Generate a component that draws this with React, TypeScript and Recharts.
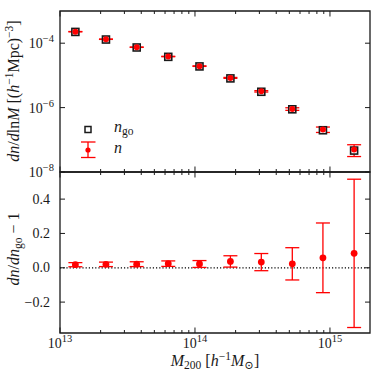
import React from 'react';
import { ComposedChart, Scatter, XAxis, YAxis, ErrorBar, ReferenceLine, ReferenceArea } from 'recharts';

// ---- data ----
const massBins = [1.30e13, 2.19e13, 3.70e13, 6.34e13, 1.08e14, 1.83e14, 3.10e14, 5.26e14, 8.87e14, 1.51e15];
const nGo = [2.24e-4, 1.30e-4, 7.36e-5, 3.77e-5, 1.90e-5, 8.07e-6, 3.10e-6, 8.85e-7, 1.98e-7, 4.63e-8];
const nMeasured = [2.28e-4, 1.33e-4, 7.51e-5, 3.86e-5, 1.94e-5, 8.37e-6, 3.20e-6, 9.05e-7, 2.09e-7, 5.02e-8];
const nError = [2.7e-6, 1.7e-6, 1.0e-6, 6.0e-7, 3.8e-7, 2.7e-7, 1.55e-7, 8.3e-8, 4.0e-8, 2.0e-8];
const ratio = [0.018, 0.020, 0.021, 0.024, 0.022, 0.037, 0.033, 0.023, 0.058, 0.084];
const ratioError = [0.012, 0.013, 0.014, 0.016, 0.020, 0.033, 0.050, 0.094, 0.203, 0.432];

const xMajorTicks = [1e13, 1e14, 1e15];
const xMinorTicks = [2e13, 3e13, 4e13, 5e13, 6e13, 7e13, 8e13, 9e13, 2e14, 3e14, 4e14, 5e14, 6e14, 7e14, 8e14, 9e14];
const topYTicks = [1e-8, 1e-6, 1e-4];
const bottomYTicks = [-0.2, 0.0, 0.2, 0.4];

const X_DOMAIN: [number, number] = [1e13, 1.98e15];
const TOP_Y_DOMAIN: [number, number] = [1e-8, 1e-3];
const BOTTOM_Y_DOMAIN: [number, number] = [-0.38, 0.558];

const topRows = massBins.map((m, i) => ({ m, ngo: nGo[i], n: nMeasured[i], nErr: nError[i] }));
const bottomRows = massBins.map((m, i) => ({ m, r: ratio[i], rErr: ratioError[i] }));
const xTicks = [...xMajorTicks, ...xMinorTicks];

// ---- styles ----
const FONT = '"Liberation Serif", "DejaVu Serif", serif';
const INK = '#1a1a1a';
const RED = '#ff0000';
const PLOT_LEFT = 60;
const PLOT_RIGHT = 370;
const TOP_Y = 11;
const MID_Y = 172;
const BOTTOM_Y = 333;
const TICK_FS = 14;
const SUP_FS = 10.5;
const TITLE_FS = 16;
const TITLE_SUB_FS = 11.5;

const powLabel = (v: number) => {
  const e = Math.round(Math.log10(v));
  return e < 0 ? '\u2212' + Math.abs(e) : String(e);
};

const renderXTick = (props: any, top: number, bottom: number, showLabel: boolean) => {
  const { x, payload } = props;
  const v = payload.value;
  const major = xMajorTicks.includes(v);
  const len = major ? 5.5 : 3;
  return (
    <g>
      <line x1={x} x2={x} y1={bottom} y2={bottom - len} stroke={INK} strokeWidth={1} />
      <line x1={x} x2={x} y1={top} y2={top + len} stroke={INK} strokeWidth={1} />
      {showLabel && major && (
        <text x={x} y={bottom + 15} textAnchor="middle" fontFamily={FONT} fontSize={TICK_FS} fill={INK}>
          10<tspan dy={-6} fontSize={SUP_FS}>{powLabel(v)}</tspan>
        </text>
      )}
    </g>
  );
};

const renderTopYTick = (props: any) => {
  const { y, payload } = props;
  const v = payload.value;
  return (
    <g>
      <line x1={PLOT_LEFT} x2={PLOT_LEFT + 5} y1={y} y2={y} stroke={INK} strokeWidth={1} />
      <line x1={PLOT_RIGHT} x2={PLOT_RIGHT - 5} y1={y} y2={y} stroke={INK} strokeWidth={1} />
      <text x={PLOT_LEFT - 6} y={y + 5} textAnchor="end" fontFamily={FONT} fontSize={TICK_FS} fill={INK}>
        10<tspan dy={-6} fontSize={SUP_FS}>{powLabel(v)}</tspan>
      </text>
    </g>
  );
};

const renderBottomYTick = (props: any) => {
  const { y, payload } = props;
  const v = payload.value as number;
  const txt = (v < 0 ? '\u2212' : '') + Math.abs(v).toFixed(1);
  return (
    <g>
      <line x1={PLOT_LEFT} x2={PLOT_LEFT + 5} y1={y} y2={y} stroke={INK} strokeWidth={1} />
      <line x1={PLOT_RIGHT} x2={PLOT_RIGHT - 5} y1={y} y2={y} stroke={INK} strokeWidth={1} />
      <text x={PLOT_LEFT - 10} y={y + 4.5} textAnchor="end" fontFamily={FONT} fontSize={TICK_FS} fill={INK}>
        {txt}
      </text>
    </g>
  );
};

const SquareShape = (props: any) => {
  const { cx, cy } = props;
  return <rect x={cx - 3.5} y={cy - 3.5} width={7} height={7} fill="#ffffff" stroke={INK} strokeWidth={1.6} />;
};

const SmallDot = (props: any) => {
  const { cx, cy } = props;
  return <circle cx={cx} cy={cy} r={3} fill={RED} />;
};

const BigDot = (props: any) => {
  const { cx, cy } = props;
  return <circle cx={cx} cy={cy} r={3.4} fill={RED} />;
};

export default function App() {
  return (
    <div style={{ position: 'absolute', left: 0, top: 0, width: 374, height: 374, background: '#ffffff' }}>
      <div style={{ position: 'absolute', left: 0, top: 0 }}>
        <ComposedChart width={374} height={200} data={topRows} margin={{ top: TOP_Y, right: 374 - PLOT_RIGHT, bottom: 0, left: 0 }}>
          <XAxis
            dataKey="m"
            type="number"
            scale="log"
            domain={X_DOMAIN}
            allowDataOverflow
            ticks={xTicks}
            interval={0}
            height={28}
            tickSize={0}
            tickLine={false}
            axisLine={false}
            tick={(p: any) => renderXTick(p, TOP_Y, MID_Y, false)}
          />
          <YAxis
            type="number"
            scale="log"
            domain={TOP_Y_DOMAIN}
            allowDataOverflow
            ticks={topYTicks}
            interval={0}
            width={PLOT_LEFT}
            tickSize={0}
            tickLine={false}
            axisLine={false}
            tick={renderTopYTick}
          />
          <ReferenceArea x1={X_DOMAIN[0]} x2={X_DOMAIN[1]} y1={TOP_Y_DOMAIN[0]} y2={TOP_Y_DOMAIN[1]} fill="none" stroke={INK} strokeWidth={1.3} />
          <Scatter dataKey="ngo" shape={SquareShape} isAnimationActive={false} />
          <Scatter dataKey="n" shape={SmallDot} isAnimationActive={false}>
            <ErrorBar dataKey="nErr" direction="y" stroke={RED} strokeWidth={1.3} width={7} />
          </Scatter>
        </ComposedChart>
      </div>
      <div style={{ position: 'absolute', left: 0, top: 0 }}>
        <ComposedChart width={374} height={374} data={bottomRows} margin={{ top: MID_Y, right: 374 - PLOT_RIGHT, bottom: 0, left: 0 }}>
          <XAxis
            dataKey="m"
            type="number"
            scale="log"
            domain={X_DOMAIN}
            allowDataOverflow
            ticks={xTicks}
            interval={0}
            height={374 - BOTTOM_Y}
            tickSize={0}
            tickLine={false}
            axisLine={false}
            tick={(p: any) => renderXTick(p, MID_Y, BOTTOM_Y, true)}
          />
          <YAxis
            type="number"
            domain={BOTTOM_Y_DOMAIN}
            allowDataOverflow
            ticks={bottomYTicks}
            interval={0}
            width={PLOT_LEFT}
            tickSize={0}
            tickLine={false}
            axisLine={false}
            tick={renderBottomYTick}
          />
          <ReferenceArea x1={X_DOMAIN[0]} x2={X_DOMAIN[1]} y1={BOTTOM_Y_DOMAIN[0]} y2={BOTTOM_Y_DOMAIN[1]} fill="none" stroke={INK} strokeWidth={1.3} />
          <ReferenceLine y={0} stroke="#000000" strokeWidth={1.2} strokeDasharray="1.2 2" />
          <Scatter dataKey="r" shape={BigDot} isAnimationActive={false}>
            <ErrorBar dataKey="rErr" direction="y" stroke={RED} strokeWidth={1.3} width={7} />
          </Scatter>
        </ComposedChart>
      </div>
      <svg width={374} height={374} style={{ position: 'absolute', left: 0, top: 0, pointerEvents: 'none' }}>
        {/* legend */}
        <rect x={85} y={126.5} width={6} height={6} fill="#ffffff" stroke={INK} strokeWidth={1.5} />
        <text x={114} y={132} fontFamily={FONT} fontSize={TITLE_FS} fill={INK}>
          <tspan fontStyle="italic">n</tspan>
          <tspan dy={3} fontSize={TITLE_SUB_FS}>go</tspan>
        </text>
        <line x1={88} x2={88} y1={142} y2={157.5} stroke={RED} strokeWidth={1.3} />
        <line x1={81} x2={95.5} y1={142} y2={142} stroke={RED} strokeWidth={1.3} />
        <line x1={81} x2={95.5} y1={157.5} y2={157.5} stroke={RED} strokeWidth={1.3} />
        <circle cx={88} cy={150} r={2.6} fill={RED} />
        <text x={114} y={153} fontFamily={FONT} fontSize={TITLE_FS} fill={INK} fontStyle="italic">n</text>

        {/* y label, top */}
        <text transform="translate(19, 91) rotate(-90)" textAnchor="middle" fontFamily={FONT} fontSize={TITLE_FS} fill={INK}>
          <tspan fontStyle="italic">dn</tspan>/<tspan fontStyle="italic">d</tspan>ln<tspan fontStyle="italic">M</tspan> [(<tspan fontStyle="italic">h</tspan>
          <tspan dy={-6} fontSize={TITLE_SUB_FS}>{'\u22121'}</tspan>
          <tspan dy={6}>Mpc)</tspan>
          <tspan dy={-6} fontSize={TITLE_SUB_FS}>{'\u22123'}</tspan>
          <tspan dy={6}>]</tspan>
        </text>

        {/* y label, bottom */}
        <text transform="translate(19, 249) rotate(-90)" textAnchor="middle" fontFamily={FONT} fontSize={TITLE_FS} fill={INK}>
          <tspan fontStyle="italic">dn</tspan>/<tspan fontStyle="italic">dn</tspan>
          <tspan dy={3} fontSize={TITLE_SUB_FS}>go</tspan>
          <tspan dy={-3}>{' \u2212 1'}</tspan>
        </text>

        {/* x label */}
        <text x={215} y={366} textAnchor="middle" fontFamily={FONT} fontSize={TITLE_FS} fill={INK}>
          <tspan fontStyle="italic">M</tspan>
          <tspan dy={3} fontSize={TITLE_SUB_FS}>200</tspan>
          <tspan dy={-3}>{' [' }</tspan>
          <tspan fontStyle="italic">h</tspan>
          <tspan dy={-6} fontSize={TITLE_SUB_FS}>{'\u22121'}</tspan>
          <tspan dy={6} fontStyle="italic">M</tspan>
          <tspan dy={3} fontSize={TITLE_SUB_FS}>{'\u2299'}</tspan>
          <tspan dy={-3}>]</tspan>
        </text>
      </svg>
    </div>
  );
}
